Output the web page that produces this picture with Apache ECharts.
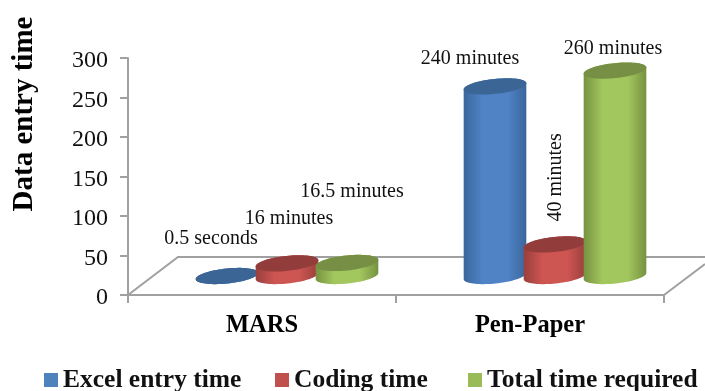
<!DOCTYPE html>
<html><head><meta charset="utf-8">
<style>html,body{margin:0;padding:0;background:#fff}#c{width:705px;height:391px}</style>
<script src="https://cdn.jsdelivr.net/npm/echarts@6/dist/echarts.min.js"></script>
</head><body><div id="c"></div>
<script>
const categories = ['MARS', 'Pen-Paper'];
const yTicks = [0, 50, 100, 150, 200, 250, 300];
const excelValues = [0.008, 240];
const codingValues = [16, 40];
const totalValues = [16.5, 260];
const excelLabels = ['0.5 seconds', '240 minutes'];
const codingLabels = ['16 minutes', '40 minutes'];
const totalLabels = ['16.5 minutes', '260 minutes'];
const yTitle = 'Data entry time';

const FONT = '"Liberation Serif","Times New Roman",serif';
const palettes = [
  {edge:'#3a669c', mid:'#4f83c6', top:'#3b6595', legend:'#4f81bd', off:-35},
  {edge:'#983f3c', mid:'#cd5552', top:'#923d3b', legend:'#c0504d', off:25},
  {edge:'#769240', mid:'#a3c75f', top:'#778f45', legend:'#9bbb59', off:85}
];
// label offset from the bar's top centre, per series / category
const labelPlace = [
  [{dx:-16,dy:-37},{dx:-25,dy:-28}],
  [{dx:2,dy:-45},{dx:1,dy:-67,rot:Math.PI/2}],
  [{dx:5,dy:-71},{dx:-2,dy:-22}]
];
const FLOOR_LIFT = 19, A = 31.5, B = 7.5, TILT = -6*Math.PI/180;

function ell(cx, cy, t){
  return [cx + A*Math.cos(t)*Math.cos(TILT) - B*Math.sin(t)*Math.sin(TILT),
          cy + A*Math.cos(t)*Math.sin(TILT) + B*Math.sin(t)*Math.cos(TILT)];
}
function cylinder(si, texts){
  const p = palettes[si];
  return function(params, api){
    const cat = api.value(0), v = api.value(1);
    const base = api.coord([cat, 0]), tip = api.coord([cat, v]);
    const cx = base[0] + p.off, by = base[1] - FLOOR_LIFT, ty = tip[1] - FLOOR_LIFT;
    const body = [], top = [];
    const N = 40;
    for (let i=0;i<=N;i++) body.push(ell(cx, by, Math.PI*i/N));
    for (let i=0;i<=N;i++) body.push(ell(cx, ty, Math.PI + Math.PI*i/N));
    for (let i=0;i<2*N;i++) top.push(ell(cx, ty, Math.PI*i/N));
    const place = labelPlace[si][params.dataIndex];
    return {type:'group', children:[
      {type:'polygon', shape:{points:body}, style:{fill:{type:'linear',x:0,y:0,x2:1,y2:0,colorStops:[
        {offset:0,color:p.edge},{offset:0.3,color:p.mid},{offset:0.7,color:p.mid},{offset:1,color:p.edge}]}}},
      {type:'polygon', shape:{points:top}, style:{fill:p.top}},
      {type:'text', x:cx+place.dx, y:ty+place.dy, rotation:place.rot||0,
       style:{text:texts[params.dataIndex], font:'20px '+FONT, fill:'#111', align:'center', verticalAlign:'middle'}}
    ]};
  };
}
function floor(params){
  const g = params.coordSys, L = g.x, R = g.x+g.width, Y = g.y+g.height;
  const ln = {stroke:'#a0a0a0', lineWidth:2, fill:'none'};
  return {type:'group', children:[
    {type:'polyline', shape:{points:[[L,Y],[L+50,Y-38],[R+41,Y-38]]}, style:ln},
    {type:'line', shape:{x1:R,y1:Y,x2:R+41,y2:Y-31}, style:ln}
  ]};
}
const names = ['Excel entry time','Coding time','Total time required'];
const valueSets = [excelValues, codingValues, totalValues];
const labelSets = [excelLabels, codingLabels, totalLabels];
const legendLefts = [44, 275, 468];

const chart = echarts.init(document.getElementById('c'), null, {renderer:'canvas'});
chart.setOption({
  animation:false,
  backgroundColor:'#fff',
  grid:{left:128, right:41, top:58, bottom:96, outerBoundsMode:'none'},
  graphic:[{type:'text', x:25, y:114, rotation:Math.PI/2,
    style:{text:yTitle, font:'bold 29px '+FONT, fill:'#000', align:'center', verticalAlign:'middle'}}],
  xAxis:{type:'category', data:categories, boundaryGap:true,
    axisLine:{lineStyle:{color:'#a0a0a0',width:2}},
    axisTick:{show:true,alignWithLabel:false,length:8,lineStyle:{color:'#a0a0a0',width:2}},
    axisLabel:{fontFamily:FONT,fontWeight:'bold',fontSize:24.5,color:'#000',margin:18}},
  yAxis:{type:'value', min:yTicks[0], max:yTicks[yTicks.length-1], interval:50,
    axisLine:{show:true,lineStyle:{color:'#a0a0a0',width:2}},
    axisTick:{show:true,length:8,lineStyle:{color:'#a0a0a0',width:2}},
    splitLine:{show:false},
    axisLabel:{fontFamily:FONT,fontSize:24,color:'#111',margin:20,verticalAlign:'top',lineHeight:6}},
  legend:names.map((n,i)=>({data:[{name:n,icon:'rect'}], left:legendLefts[i], top:367,
    itemWidth:14,itemHeight:14,itemGap:0,selectedMode:false,padding:0,
    textStyle:{fontFamily:FONT,fontWeight:'bold',fontSize:25.5,color:'#111'}})),
  series:[
    {type:'custom',name:'floor',coordinateSystem:'cartesian2d',data:[[0,0]],renderItem:floor,silent:true,z:1}
  ].concat(names.map((n,i)=>({
    type:'custom', name:n, coordinateSystem:'cartesian2d', z:2+i,
    itemStyle:{color:palettes[i].legend},
    encode:{x:0,y:1},
    data:valueSets[i].map((v,c)=>[c,v]),
    renderItem:cylinder(i, labelSets[i])
  })))
});
</script></body></html>
